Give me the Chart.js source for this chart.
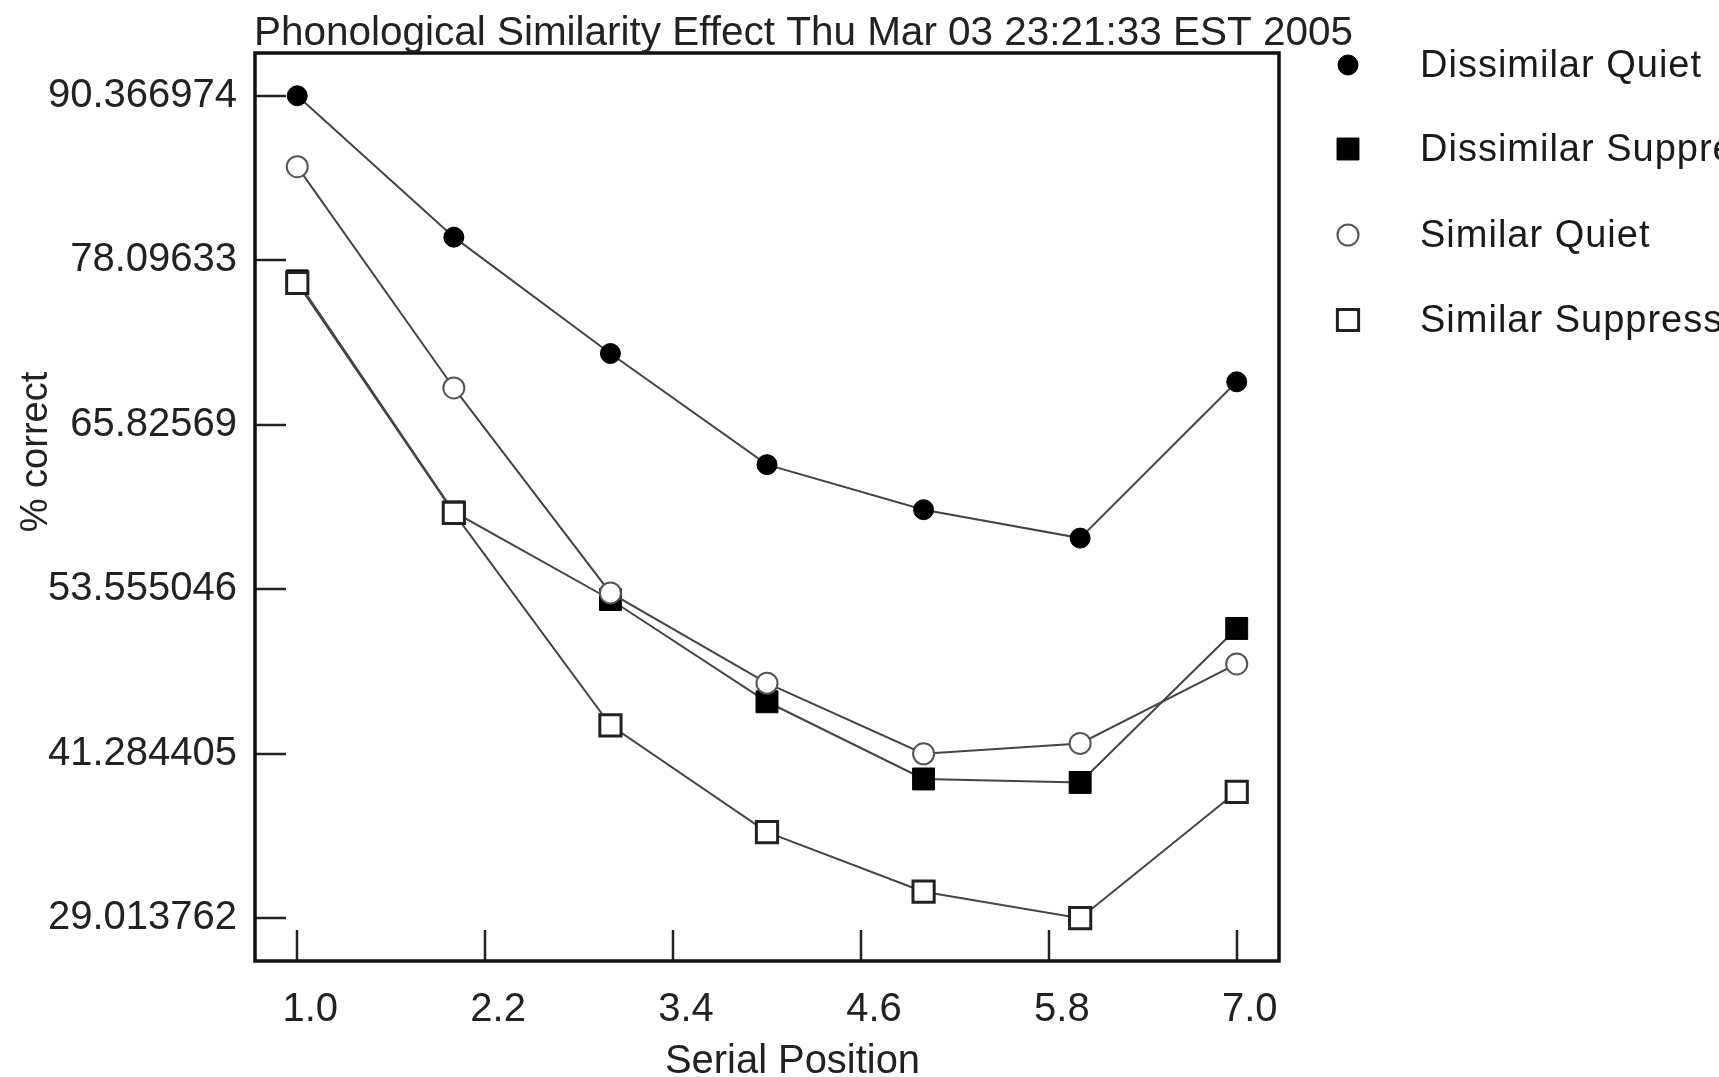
<!DOCTYPE html>
<html><head><meta charset="utf-8">
<script src="https://cdn.jsdelivr.net/npm/chart.js@4.4.1/dist/chart.umd.min.js"></script>
<style>html,body{margin:0;padding:0;background:#fff;overflow:hidden}</style>
</head><body>
<canvas id="c" width="1719" height="1077"></canvas>
<script>
// ---- data ----
const titleText = 'Phonological Similarity Effect Thu Mar 03 23:21:33 EST 2005';
const xAxisTitle = 'Serial Position';
const yAxisTitle = '% correct';
const serialPositions = [1, 2, 3, 4, 5, 6, 7];
const seriesNames = ['Dissimilar Quiet', 'Dissimilar Suppression', 'Similar Quiet', 'Similar Suppression'];
const dissimilarQuiet       = [90.366974, 79.82, 71.14, 62.85, 59.49, 57.37, 69.03];
const dissimilarSuppression = [76.56, 59.32, 52.79, 45.16, 39.40, 39.14, 50.63];
const similarQuiet          = [85.08, 68.57, 53.28, 46.55, 41.28, 42.05, 47.98];
const similarSuppression    = [76.40, 59.25, 43.40, 35.43, 30.99, 29.013762, 38.44];
const xTickValues = [1.0, 2.2, 3.4, 4.6, 5.8, 7.0];
const xTickLabels = ['1.0', '2.2', '3.4', '4.6', '5.8', '7.0'];
const yTickValues = [29.013762, 41.284405, 53.555046, 65.82569, 78.09633, 90.366974];
const yTickLabels = ['29.013762', '41.284405', '53.555046', '65.82569', '78.09633', '90.366974'];

const NARROW = '"Liberation Sans Narrow", "Liberation Sans", Arial, sans-serif';
const REG = '"Liberation Sans", Arial, sans-serif';

function pts(arr) { return serialPositions.map((x, i) => ({ x: x, y: arr[i] })); }

const styles = [
  { pointStyle: 'circle', radius: 10, bg: '#000', border: '#000', bw: 1 },
  { pointStyle: 'rect', radius: 15.5, bg: '#000', border: '#000', bw: 1 },
  { pointStyle: 'circle', radius: 10.5, bg: '#fff', border: '#555', bw: 2 },
  { pointStyle: 'rect', radius: 15, bg: '#fff', border: '#222', bw: 3 }
];
const allSeries = [dissimilarQuiet, dissimilarSuppression, similarQuiet, similarSuppression];
const drawOrder = [3, 2, 1, 0];

const datasets = allSeries.map((arr, i) => ({
  label: seriesNames[i],
  data: pts(arr),
  showLine: true,
  borderColor: '#444',
  borderWidth: 2,
  pointStyle: styles[i].pointStyle,
  pointRadius: styles[i].radius,
  pointBackgroundColor: styles[i].bg,
  pointBorderColor: styles[i].border,
  pointBorderWidth: styles[i].bw,
  fill: false,
  tension: 0,
  order: drawOrder[i]
}));

function drawMarker(ctx, st, x, y) {
  ctx.save();
  ctx.fillStyle = st.bg; ctx.strokeStyle = st.border; ctx.lineWidth = st.bw;
  ctx.beginPath();
  if (st.pointStyle === 'circle') {
    ctx.arc(x, y, st.radius, 0, Math.PI * 2);
  } else {
    const s = st.radius * Math.SQRT1_2;
    ctx.rect(x - s, y - s, 2 * s, 2 * s);
  }
  ctx.fill(); ctx.stroke();
  ctx.restore();
}

const decor = {
  id: 'decor',
  beforeDatasetsDraw(chart) {
    const { ctx, chartArea: a, scales } = chart;
    ctx.save();
    ctx.strokeStyle = '#222'; ctx.lineWidth = 2.5;
    yTickValues.forEach(v => {
      const y = Math.round(scales.y.getPixelForValue(v));
      ctx.beginPath(); ctx.moveTo(a.left, y); ctx.lineTo(a.left + 31, y); ctx.stroke();
    });
    xTickValues.forEach(v => {
      const x = Math.round(scales.x.getPixelForValue(v));
      ctx.beginPath(); ctx.moveTo(x, a.bottom); ctx.lineTo(x, a.bottom - 31); ctx.stroke();
    });
    ctx.strokeStyle = '#111'; ctx.lineWidth = 3.5;
    ctx.strokeRect(a.left, a.top, a.right - a.left, a.bottom - a.top);
    ctx.restore();
  },
  afterDraw(chart) {
    const { ctx, chartArea: a } = chart;
    ctx.save();
    ctx.fillStyle = '#222';
    // title (fitted to the reference width)
    ctx.font = '40px ' + NARROW;
    ctx.textBaseline = 'alphabetic'; ctx.textAlign = 'left';
    let w = ctx.measureText(titleText).width;
    ctx.save(); ctx.translate(a.left - 1, 45); ctx.scale(1099 / w, 1);
    ctx.fillText(titleText, 0, 0); ctx.restore();
    // x axis title
    w = ctx.measureText(xAxisTitle).width;
    ctx.save(); ctx.translate(665, 1073); ctx.scale(255 / w, 1);
    ctx.fillText(xAxisTitle, 0, 0); ctx.restore();
    // y axis title
    ctx.font = '38px ' + REG;
    ctx.save(); ctx.translate(37, 452); ctx.rotate(-Math.PI / 2);
    ctx.textAlign = 'center'; ctx.textBaseline = 'middle';
    ctx.fillText(yAxisTitle, 0, 0); ctx.restore();
    // legend
    const legY = [65, 149, 235, 320];
    ctx.font = '38px ' + REG; ctx.textBaseline = 'middle'; ctx.textAlign = 'left';
    try { ctx.letterSpacing = '1px'; } catch (e) {}
    chart.data.datasets.forEach((ds, i) => {
      drawMarker(ctx, styles[i], 1348, legY[i]);
      ctx.fillStyle = '#1a1a1a';
      ctx.fillText(ds.label, 1420, legY[i] + 2);
    });
    ctx.restore();
  }
};

new Chart(document.getElementById('c'), {
  type: 'scatter',
  data: { datasets },
  options: {
    responsive: false,
    animation: false,
    events: [],
    layout: { padding: { top: 53, right: 440, left: 0, bottom: 0 } },
    plugins: { legend: { display: false }, title: { display: false }, tooltip: { enabled: false } },
    scales: {
      x: {
        type: 'linear', min: 0.73, max: 7.27,
        grid: { display: false, drawTicks: false },
        border: { display: false },
        afterBuildTicks: s => { s.ticks = xTickValues.map(v => ({ value: v })); },
        afterFit: s => { s.height = 116; },
        ticks: {
          autoSkip: false, maxRotation: 0, minRotation: 0,
          font: { family: NARROW, size: 40 }, color: '#222', padding: 25, labelOffset: 13,
          callback: (v, i) => xTickLabels[i]
        }
      },
      y: {
        type: 'linear', min: 25.82, max: 93.56,
        grid: { display: false, drawTicks: false },
        border: { display: false },
        afterBuildTicks: s => { s.ticks = yTickValues.map(v => ({ value: v })); },
        afterFit: s => { s.width = 255; },
        ticks: {
          autoSkip: false,
          font: { family: REG, size: 40 }, color: '#222', padding: 18,
          callback: (v, i) => yTickLabels[i]
        }
      }
    }
  },
  plugins: [decor]
});
</script>
</body></html>
